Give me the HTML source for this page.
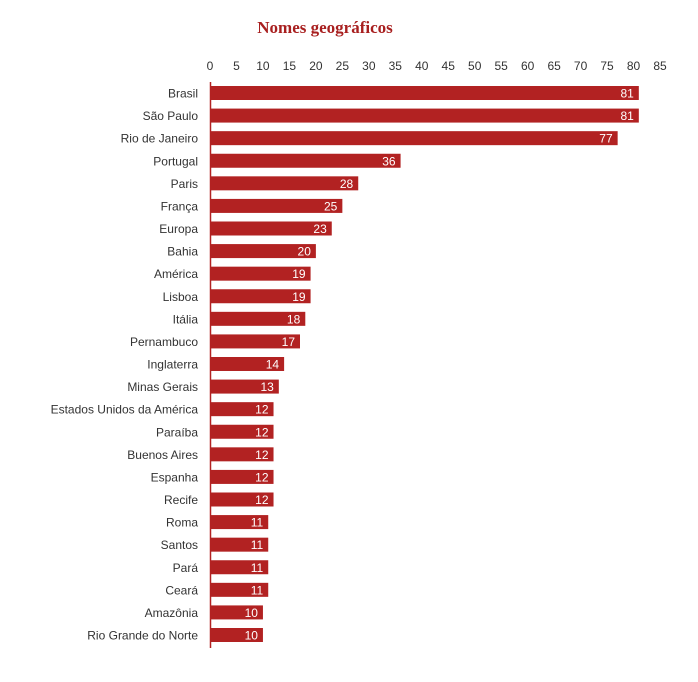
<!DOCTYPE html>
<html><head><meta charset="utf-8"><style>body{margin:0;background:#fff}svg{display:block}</style></head><body>
<svg width="698" height="682" xmlns="http://www.w3.org/2000/svg" font-family="'Liberation Sans',sans-serif">
<text x="325" y="33" text-anchor="middle" font-family="'Liberation Serif',serif" font-weight="bold" font-size="17" fill="#a81f1f">Nomes geográficos</text>
<g id="ticks" font-size="12" fill="#333" text-anchor="middle"></g>
<g id="bars"></g>
<line x1="210.5" y1="82" x2="210.5" y2="648" stroke="#b22222" stroke-width="1.5"/>
<script>
var d=[["Brasil",81],["São Paulo",81],["Rio de Janeiro",77],["Portugal",36],["Paris",28],["França",25],["Europa",23],["Bahia",20],["América",19],["Lisboa",19],["Itália",18],["Pernambuco",17],["Inglaterra",14],["Minas Gerais",13],["Estados Unidos da América",12],["Paraíba",12],["Buenos Aires",12],["Espanha",12],["Recife",12],["Roma",11],["Santos",11],["Pará",11],["Ceará",11],["Amazônia",10],["Rio Grande do Norte",10]];
var ns="http://www.w3.org/2000/svg",s=450/85,t=document.getElementById("ticks"),b=document.getElementById("bars");
function el(n,a,txt,p){var e=document.createElementNS(ns,n);for(var k in a)e.setAttribute(k,a[k]);if(txt!=null)e.textContent=txt;p.appendChild(e);}
for(var v=0;v<=85;v+=5)el("text",{x:210+v*s,y:70},v,t);
var step=(635-93)/24;
d.forEach(function(r,i){var c=93+i*step;var w=r[1]*s;
el("rect",{x:210,y:c-7,width:w,height:14,fill:"#b22222"},null,b);
el("text",{x:198,y:c+4.5,"text-anchor":"end","font-size":12,fill:"#333"},r[0],b);
el("text",{x:210+w-5,y:c+4.5,"text-anchor":"end","font-size":12,fill:"#fff"},r[1],b);});
</script>
</svg></body></html>
